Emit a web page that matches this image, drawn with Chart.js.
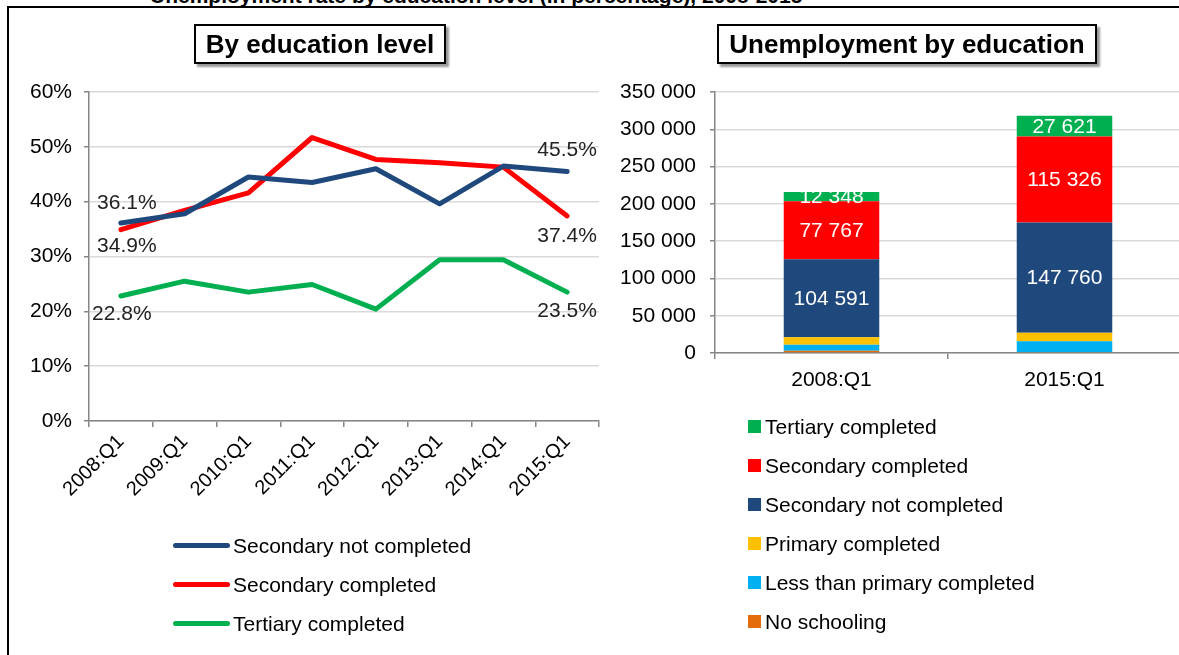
<!DOCTYPE html>
<html>
<head>
<meta charset="utf-8">
<script src="https://cdn.jsdelivr.net/npm/chart.js@4"></script>
<style>
  html, body { margin: 0; padding: 0; background: #fff; overflow: hidden; }
  body { width: 1179px; height: 655px; position: relative; font-family: 'Liberation Sans', Arial, sans-serif; color: #000; }
  .frame { position: absolute; left: 7px; top: 6px; width: 1200px; height: 700px; border: 2px solid #000; box-sizing: border-box; }
  .cut-title { position: absolute; left: 150px; top: -16px; font-size: 21px; font-weight: bold; white-space: nowrap; }
  .box { position: absolute; top: 24px; height: 40px; border: 2px solid #000; box-sizing: border-box; box-shadow: 3px 3px 2px #999;
         font-weight: bold; font-size: 26px; text-align: center; line-height: 36px; background: #fff; }
  canvas { position: absolute; top: 0; }
  .legend { position: absolute; font-size: 21px; }
  .legend .row { position: absolute; white-space: nowrap; height: 22px; line-height: 22px; }
  .legend .line { position: absolute; left: 0; top: 8px; width: 57px; height: 5px; border-radius: 3px; }
  .legend .sq { position: absolute; left: 0; top: 4px; width: 13px; height: 13px; }
</style>
</head>
<body>
<div class="frame"></div>
<div class="cut-title">Unemployment rate by education level (in percentage), 2008-2015</div>
<canvas id="lineChart" width="620" height="655" style="left:0;width:620px;height:655px"></canvas>
<canvas id="barChart" width="565" height="655" style="left:620px;width:565px;height:655px"></canvas>
<div class="box" style="left:194px;width:252px">By education level</div>
<div class="box" style="left:717px;width:380px">Unemployment by education</div>
<div class="legend" id="lineLegend" style="left:173px;top:535px"></div>
<div class="legend" id="barLegend" style="left:748px;top:416px"></div>
<script>
// left panel: share by education level (%)
const quarters = ['2008:Q1', '2009:Q1', '2010:Q1', '2011:Q1', '2012:Q1', '2013:Q1', '2014:Q1', '2015:Q1']
const secNotCompleted = [36.1, 37.8, 44.5, 43.5, 46.0, 39.6, 46.5, 45.5]
const secCompleted = [34.9, 38.4, 41.6, 51.7, 47.7, 47.1, 46.3, 37.4]
const tertiary = [22.8, 25.5, 23.5, 24.9, 20.4, 29.4, 29.4, 23.5]
const pctTicks = [0, 10, 20, 30, 40, 50, 60]

// right panel: unemployed persons by education
const periods = ['2008:Q1', '2015:Q1']
const noSchooling = [3100, 400]
const lessThanPrimary = [7800, 15300]
const primaryCompleted = [10300, 11600]
const secNotCompletedU = [104591, 147760]
const secCompletedU = [77767, 115326]
const tertiaryU = [12348, 27621]
const countTicks = [0, 50000, 100000, 150000, 200000, 250000, 300000, 350000]

const NAVY = '#1F497D', RED = '#FF0000', GREEN = '#00B050'
const YELLOW = '#FFC000', CYAN = '#00B0F0', ORANGE = '#E46C0A'
const AXIS = '#868686', GRID = '#D9D9D9'

Chart.defaults.font.family = "'Liberation Sans', Arial, sans-serif"
Chart.defaults.color = '#000'
Chart.defaults.animation = false

const spaced = (v) => String(v).replace(/\B(?=(\d{3})+(?!\d))/g, ' ')

// labels at the first and last point of each line
const endLabels = {
  id: 'endLabels',
  afterDatasetsDraw(chart) {
    const ctx = chart.ctx
    ctx.save()
    ctx.font = "21px 'Liberation Sans', Arial"
    ctx.fillStyle = '#222'
    ctx.textAlign = 'center'
    ctx.textBaseline = 'middle'
    chart.data.datasets.forEach((ds, i) => {
      const pts = chart.getDatasetMeta(i).data
      const last = pts.length - 1
      ctx.fillText(ds.data[0].toFixed(1) + '%', pts[0].x + ds.labelDx[0], pts[0].y + ds.labelDy[0])
      ctx.fillText(ds.data[last].toFixed(1) + '%', pts[last].x + ds.labelDx[1], pts[last].y + ds.labelDy[1])
    })
    ctx.restore()
  },
}

// white value labels inside the large segments
const segLabels = {
  id: 'segLabels',
  afterDatasetsDraw(chart) {
    const ctx = chart.ctx
    ctx.save()
    ctx.font = "21px 'Liberation Sans', Arial"
    ctx.fillStyle = '#fff'
    ctx.textAlign = 'center'
    ctx.textBaseline = 'middle'
    chart.data.datasets.forEach((ds, i) => {
      if (!ds.showValue) return
      chart.getDatasetMeta(i).data.forEach((bar, j) => {
        const p = bar.getProps(['x', 'y', 'base'], true)
        ctx.fillText(spaced(ds.data[j]), p.x, (p.y + p.base) / 2 + 1)
      })
    })
    ctx.restore()
  },
}

const lineSet = (label, data, color, dx, dy) => ({
  label, data,
  borderColor: color, backgroundColor: color,
  borderWidth: 5, pointRadius: 0, tension: 0,
  borderCapStyle: 'round', borderJoinStyle: 'round',
  labelDx: dx, labelDy: dy,
})

new Chart(document.getElementById('lineChart'), {
  type: 'line',
  data: {
    labels: quarters,
    datasets: [
      lineSet('Secondary not completed', secNotCompleted, NAVY, [6, 0], [-20, -21]),
      lineSet('Secondary completed', secCompleted, RED, [6, 0], [17, 20]),
      lineSet('Tertiary completed', tertiary, GREEN, [1, 0], [18, 19]),
    ],
  },
  options: {
    responsive: false,
    layout: { padding: { top: 92, right: 21, left: 0, bottom: 0 } },
    plugins: { legend: { display: false }, tooltip: { enabled: false } },
    scales: {
      x: {
        offset: true,
        grid: { offset: true, drawOnChartArea: false, color: AXIS, tickLength: 6, lineWidth: 1.5 },
        border: { color: AXIS, width: 1.5 },
        ticks: { font: { size: 20 }, maxRotation: 45, minRotation: 45, padding: 3 },
        afterFit: (s) => { s.height = 234 },
      },
      y: {
        min: 0, max: 60,
        afterBuildTicks: (s) => { s.ticks = pctTicks.map((v) => ({ value: v })) },
        grid: { color: GRID, lineWidth: 1.5, tickColor: AXIS, tickLength: 5 },
        border: { color: AXIS, width: 1.5 },
        ticks: { font: { size: 21 }, padding: 12, callback: (v) => v + '%' },
        afterFit: (s) => { s.width = 89 },
      },
    },
  },
  plugins: [endLabels],
})

const barSet = (label, data, color, showValue) => ({
  label, data, backgroundColor: color, borderWidth: 0,
  barPercentage: 0.41, categoryPercentage: 1, showValue,
})

const barSets = [
  barSet('No schooling', noSchooling, ORANGE, false),
  barSet('Less than primary completed', lessThanPrimary, CYAN, false),
  barSet('Primary completed', primaryCompleted, YELLOW, false),
  barSet('Secondary not completed', secNotCompletedU, NAVY, true),
  barSet('Secondary completed', secCompletedU, RED, true),
  barSet('Tertiary completed', tertiaryU, GREEN, true),
]

new Chart(document.getElementById('barChart'), {
  type: 'bar',
  data: { labels: periods, datasets: barSets },
  options: {
    responsive: false,
    layout: { padding: { top: 92, right: 4, left: 0, bottom: 0 } },
    plugins: { legend: { display: false }, tooltip: { enabled: false } },
    scales: {
      x: {
        stacked: true,
        grid: { offset: true, drawOnChartArea: false, color: AXIS, tickLength: 6, lineWidth: 1.5 },
        border: { color: AXIS, width: 1.5 },
        ticks: { font: { size: 21 }, padding: 9 },
        afterFit: (s) => { s.height = 302 },
      },
      y: {
        stacked: true,
        min: 0, max: 350000,
        afterBuildTicks: (s) => { s.ticks = countTicks.map((v) => ({ value: v })) },
        grid: { color: GRID, lineWidth: 1.5, tickColor: AXIS, tickLength: 5 },
        border: { color: AXIS, width: 1.5 },
        ticks: { font: { size: 21 }, padding: 14, callback: (v) => spaced(v) },
        afterFit: (s) => { s.width = 95 },
      },
    },
  },
  plugins: [segLabels],
})

// legends built from the same series
const lineLegend = document.getElementById('lineLegend')
;[['Secondary not completed', NAVY], ['Secondary completed', RED], ['Tertiary completed', GREEN]].forEach(([name, color], i) => {
  lineLegend.innerHTML += `<div class="row" style="top:${i * 39}px"><span class="line" style="background:${color}"></span><span style="position:absolute;left:60px">${name}</span></div>`
})
const barLegend = document.getElementById('barLegend')
barSets.slice().reverse().forEach((ds, i) => {
  barLegend.innerHTML += `<div class="row" style="top:${i * 39}px"><span class="sq" style="background:${ds.backgroundColor}"></span><span style="position:absolute;left:17px">${ds.label}</span></div>`
})
</script>
</body>
</html>
